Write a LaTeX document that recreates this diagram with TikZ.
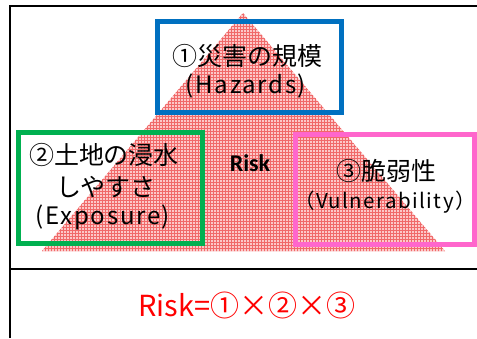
\documentclass[tikz,border=0pt]{standalone}
\usepackage{fontspec}
\usetikzlibrary{patterns}
\newfontfamily\jpfont{Noto Sans CJK JP}
\newfontfamily\jpspaced[LetterSpace=7]{Noto Sans CJK JP}
\newfontfamily\riskfont{Carlito}
\definecolor{boxblue}{RGB}{0,112,192}
\definecolor{boxgreen}{RGB}{0,176,80}
\definecolor{boxpink}{RGB}{255,102,204}
\definecolor{tripink}{RGB}{252,200,200}
\definecolor{gridred}{RGB}{240,105,105}
\tikzset{
  frameline/.style={line width=2.5pt, black},
  catbox/.style={line width=5pt},
  jptext/.style={inner sep=0pt, font=\jpfont\fontsize{25}{30}\selectfont},
  entext/.style={inner sep=0pt, font=\jpspaced\fontsize{24}{29}\selectfont},
}
\begin{document}
\begin{tikzpicture}[x=1pt,y=-1pt]
\useasboundingbox (0,0) rectangle (477,338);
% frame
\draw[frameline] (10,338) -- (10,6) -- (477,6);
\draw[frameline] (10,269) -- (477,269);
% triangle
\coordinate (apex) at (243,13);
\coordinate (bl) at (42,251);
\coordinate (br) at (445,251);
\fill[tripink] (apex) -- (bl) -- (br) -- cycle;
\fill[pattern=grid, pattern color=gridred] (apex) -- (bl) -- (br) -- cycle;
% boxes
\draw[catbox, boxblue] (157,21) rectangle (341,112);
\draw[catbox, boxgreen] (18,132) rectangle (202,243);
\draw[catbox, boxpink] (295,134) rectangle (474.5,244);
% texts
\node[jptext] (h1) at (247,56) {①災害の規模};
\node[entext] (h2) at (246,86) {(Hazards)};
\node[jptext] (e1) at (104,155) {②土地の浸水};
\node[jptext] (e2) at (106,187) {しやすさ};
\node[entext] (e3) at (103,217) {(Exposure)};
\node[jptext] (v1) at (386,171) {③脆弱性};
\node[inner sep=0pt, font=\jpspaced\fontsize{20.5}{25}\selectfont] (v2) at (385,202) {（Vulnerability）};
\node[inner sep=0pt, font=\riskfont\bfseries\fontsize{24}{28}\selectfont] (risk) at (250,163) {Risk};
\node[inner sep=0pt, text=red, font=\jpfont\fontsize{29}{34}\selectfont] (f) at (247,305) {Risk=①×②×③};
\end{tikzpicture}
\end{document}
